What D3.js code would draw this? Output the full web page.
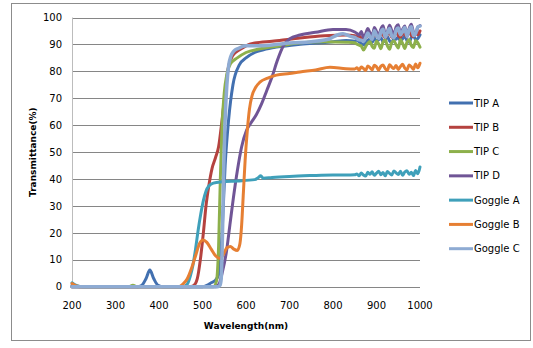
<!DOCTYPE html>
<html>
<head>
<meta charset="utf-8">
<script src="https://cdn.jsdelivr.net/npm/d3@7"></script>
<style>
  html, body { margin: 0; padding: 0; background: #fff; }
  svg { display: block; }
</style>
</head>
<body>
<div id="chart"></div>
<script>
// Series names and colours (legend order)
const seriesNames = ['TIP A', 'TIP B', 'TIP C', 'TIP D', 'Goggle A', 'Goggle B', 'Goggle C']
const seriesColors = ['#4270B0', '#B5423F', '#8DB04B', '#705596', '#3FA0BA', '#E67F33', '#8EABD3']

const xTicks = [200, 300, 400, 500, 600, 700, 800, 900, 1000]
const yTicks = [0, 10, 20, 30, 40, 50, 60, 70, 80, 90, 100]

// [wavelength nm, transmittance %], up to ~840 nm
const tipA = [[200, 0.5], [220, 0], [350, 0], [360, 0.5], [370, 3], [379, 6.2], [388, 3], [398, 0.5], [410, 0], [500, 0], [510, 0.5], [520, 1.5], [530, 2.5], [538, 5], [545, 20], [552, 45], [560, 62], [570, 75], [585, 82.5], [600, 85], [620, 87], [640, 88], [670, 89], [720, 90], [760, 90.5], [800, 91], [830, 91.5]]
const tipB = [[200, 0], [470, 0], [480, 0.5], [488, 3], [495, 10], [502, 20], [508, 30], [515, 38], [522, 44], [530, 48], [537, 52], [545, 62], [552, 72], [560, 82], [570, 86], [585, 88], [600, 89.5], [620, 90.5], [660, 91.2], [720, 92.3], [780, 93.2], [830, 93.5]]
const tipC = [[200, 0], [330, 0], [340, 0.6], [350, 0], [525, 0], [532, 2], [537, 15], [541, 40], [545, 60], [550, 72], [556, 79], [565, 83], [580, 85], [600, 87], [630, 88.3], [680, 89.5], [720, 90.5], [780, 91], [830, 90.8]]
const tipD = [[200, 0], [530, 0], [538, 1], [545, 5], [555, 13], [563, 23], [571, 33], [580, 43], [590, 52], [601, 58], [612, 61], [624, 64], [636, 68], [648, 73], [660, 78], [672, 84], [686, 89.5], [700, 92], [724, 93.5], [760, 94.5], [800, 95.5], [830, 95.5]]
const goggleA = [[200, 1.5], [210, 0.5], [225, 0], [455, 0], [465, 1], [472, 4], [478, 8], [484, 14], [490, 21], [496, 27], [502, 32], [508, 35.5], [515, 37.5], [525, 38.5], [545, 39], [580, 39.3], [620, 39.8], [628, 40.5], [634, 41.2], [640, 40.3], [660, 40.6], [700, 41], [750, 41.3], [800, 41.5], [830, 41.5]]
const goggleB = [[200, 1.2], [210, 0.3], [225, 0], [445, 0], [455, 1], [465, 3], [475, 7], [485, 12], [493, 16], [501, 17.4], [510, 16.5], [520, 14], [530, 11.5], [540, 10.5], [548, 12], [556, 14.5], [564, 15], [572, 14], [580, 13.5], [586, 16], [590, 23], [594, 35], [598, 47], [603, 58], [608, 66], [614, 71], [622, 74], [632, 76], [650, 77.5], [670, 78.6], [700, 79.2], [724, 79.8], [760, 80.5], [793, 81.5], [830, 81]]
const goggleC = [[200, 0], [535, 0], [540, 0.5], [543, 3], [546, 20], [549, 45], [552, 62], [556, 75], [560, 82], [565, 85.5], [572, 87.5], [582, 88.5], [600, 89.5], [630, 89.5], [660, 89.8], [700, 90.5], [750, 91], [790, 92], [810, 93.5], [823, 94], [840, 93]]

// noisy tail, 850-1000 nm
const tailNm = [850, 855, 860, 865, 870, 875, 880, 885, 890, 895, 900, 905, 910, 915, 920, 925, 930, 935, 940, 945, 950, 955, 960, 965, 970, 975, 980, 985, 990, 995, 1000]
const tipATail = [91.2, 91.6, 91, 90.4, 89.8, 90.6, 91.5, 91.9, 90.7, 92.4, 91.1, 91.8, 92.6, 90.9, 91.7, 92.9, 91.3, 90.6, 92.2, 91.9, 92.8, 91.2, 92.1, 93.1, 91.5, 90.8, 92.6, 93.3, 91.7, 92.2, 93.6]
const tipBTail = [93.2, 92.8, 93.1, 92.4, 91.6, 92.3, 93.6, 93, 92.2, 93.9, 93.1, 92.6, 94.1, 93.5, 92.4, 93.8, 94.3, 92.7, 93.2, 94.5, 93.3, 92.6, 94.2, 93.7, 92.8, 94.8, 93.4, 92.9, 94.4, 93.6, 95]
const tipCTail = [90.6, 90.1, 89.7, 89.4, 87.9, 89.2, 90.4, 91.1, 89.3, 88.6, 91.3, 90.2, 88.4, 90.9, 91.6, 89.5, 88.2, 90.7, 91.4, 89.9, 88.7, 91.7, 90.4, 88.5, 90.8, 91.8, 89.6, 88.9, 91.5, 90.6, 89]
const tipDTail = [94.6, 94.1, 93.5, 94.8, 92.6, 93.9, 95.9, 94.3, 93.1, 96.3, 94.8, 93.2, 95.7, 96.9, 93.9, 94.7, 97.1, 95.2, 93.6, 96.5, 97.3, 94.1, 95.6, 96.8, 93.4, 95.9, 97.5, 94.6, 93.8, 96.4, 97]
const goggleATail = [41.6, 41.9, 41.2, 42.3, 41.5, 41.1, 42.5, 41.8, 42.7, 41.4, 42.2, 42.9, 41.6, 42.4, 41.2, 42.8, 42.1, 41.5, 43, 42.3, 41.7, 42.9, 41.4, 42.6, 43.1, 41.8, 42.5, 41.3, 43.2, 42, 44.5]
const goggleBTail = [80.9, 81.3, 80.5, 81.6, 81.1, 80.3, 82, 81.4, 80.6, 82.3, 81.7, 80.5, 81.9, 82.4, 81, 80.4, 82.5, 81.6, 81.1, 82.2, 80.7, 81.8, 82.6, 81.2, 80.5, 82.4, 81.7, 80.8, 82.7, 81.3, 83]
const goggleCTail = [92.6, 92.1, 91.7, 91.6, 91.1, 92.4, 94.2, 92.8, 91.9, 95.1, 93.4, 92.2, 94.6, 95.6, 92.7, 94.3, 95.9, 93.1, 92.5, 95.2, 96.1, 93.6, 94.8, 96.3, 92.9, 95.4, 96.6, 93.3, 94.1, 96.5, 96.8]

const heads = [tipA, tipB, tipC, tipD, goggleA, goggleB, goggleC]
const tails = [tipATail, tipBTail, tipCTail, tipDTail, goggleATail, goggleBTail, goggleCTail]

const series = seriesNames.map((name, i) => ({
  name,
  color: seriesColors[i],
  values: heads[i].concat(tailNm.map((w, j) => [w, tails[i][j]]))
}))

const width = 533
const height = 348
const plot = { left: 72, right: 420, top: 17.5, bottom: 286.8 }
const font = 'DejaVu Sans, sans-serif'

const svg = d3.select('#chart')
  .append('svg')
  .attr('width', width)
  .attr('height', height)

// outer chart border
svg.append('rect')
  .attr('x', 11.5).attr('y', 3.5)
  .attr('width', 519).attr('height', 337)
  .attr('fill', '#fff')
  .attr('stroke', '#8c8c8c')
  .attr('stroke-width', 1)

const x = d3.scaleLinear().domain([200, 1000]).range([plot.left, plot.right])
const y = d3.scaleLinear().domain([0, 100]).range([plot.bottom, plot.top])

// gridlines
svg.append('g')
  .selectAll('line')
  .data(yTicks)
  .join('line')
  .attr('x1', plot.left).attr('x2', plot.right)
  .attr('y1', d => Math.round(y(d)) + 0.5)
  .attr('y2', d => Math.round(y(d)) + 0.5)
  .attr('stroke', '#868686')
  .attr('stroke-width', 1)

// left axis line
svg.append('line')
  .attr('x1', plot.left + 0.5).attr('x2', plot.left + 0.5)
  .attr('y1', plot.top).attr('y2', plot.bottom)
  .attr('stroke', '#bcbcbc')

// y tick labels
svg.append('g')
  .selectAll('text')
  .data(yTicks)
  .join('text')
  .attr('x', 62)
  .attr('y', d => y(d))
  .attr('dy', '0.36em')
  .attr('text-anchor', 'end')
  .attr('font-family', font)
  .attr('font-size', '10px')
  .attr('fill', '#000')
  .text(d => d)

// x tick labels
svg.append('g')
  .selectAll('text')
  .data(xTicks)
  .join('text')
  .attr('x', d => x(d))
  .attr('y', 309)
  .attr('text-anchor', 'middle')
  .attr('font-family', font)
  .attr('font-size', '10px')
  .attr('fill', '#000')
  .text(d => d)

// axis titles
svg.append('text')
  .attr('x', (plot.left + plot.right) / 2)
  .attr('y', 329)
  .attr('text-anchor', 'middle')
  .attr('font-family', font)
  .attr('font-size', '9px')
  .attr('font-weight', 'bold')
  .text('Wavelength(nm)')

svg.append('text')
  .attr('transform', `translate(36, ${(plot.top + plot.bottom) / 2}) rotate(-90)`)
  .attr('text-anchor', 'middle')
  .attr('font-family', font)
  .attr('font-size', '9px')
  .attr('font-weight', 'bold')
  .text('Transmittance(%)')

// lines
const line = d3.line()
  .x(d => x(d[0]))
  .y(d => y(d[1]))
  .curve(d3.curveMonotoneX)

svg.append('g')
  .selectAll('path')
  .data(series)
  .join('path')
  .attr('d', d => line(d.values))
  .attr('fill', 'none')
  .attr('stroke', d => d.color)
  .attr('stroke-width', (d, i) => i === 6 ? 3.5 : 3)
  .attr('stroke-linejoin', 'round')
  .attr('stroke-linecap', 'round')

// legend
const legendY = d3.scalePoint().domain(seriesNames).range([103, 248.7])
const legend = svg.append('g')
  .selectAll('g')
  .data(series)
  .join('g')
  .attr('transform', d => `translate(0, ${legendY(d.name)})`)

legend.append('line')
  .attr('x1', 449).attr('x2', 473)
  .attr('y1', 0).attr('y2', 0)
  .attr('stroke', d => d.color)
  .attr('stroke-width', 3)

legend.append('text')
  .attr('x', 474)
  .attr('y', 0)
  .attr('dy', '0.36em')
  .attr('font-family', font)
  .attr('font-size', '10px')
  .attr('fill', '#000')
  .text(d => d.name)
</script>
</body>
</html>
